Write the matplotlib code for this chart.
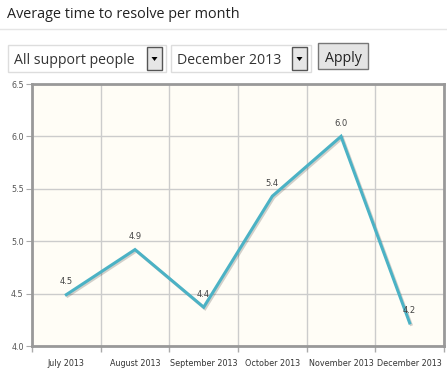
import matplotlib
matplotlib.use("Agg")
import matplotlib.pyplot as plt
import matplotlib.patheffects as pe
from matplotlib.patches import Rectangle, Polygon

# chart data
months = ["July 2013", "August 2013", "September 2013", "October 2013",
          "November 2013", "December 2013"]
avg_time = [4.49, 4.92, 4.37, 5.43, 6.0, 4.22]
y_ticks = [4.0, 4.5, 5.0, 5.5, 6.0, 6.5]

W, H = 447, 376
fig = plt.figure(figsize=(W / 100, H / 100), dpi=100)
fig.patch.set_facecolor("white")


def fx(px):
    return px / W


def fy(py):
    return 1 - py / H


# header
fig.text(fx(7), fy(15), "Average time to resolve per month", fontsize=10.4,
         family="Open Sans", color="#222222", va="center", ha="left")
fig.add_artist(plt.Line2D([0, 1], [fy(29), fy(29)], color="#e5e5e5", lw=1))


def dropdown(x0, x1, label):
    fig.add_artist(Rectangle((fx(x0), fy(72)), fx(x1 - x0), fy(45) - fy(72),
                             transform=fig.transFigure, facecolor="white",
                             edgecolor="#dddddd", lw=1))
    fig.text(fx(x0 + 6), fy(61), label, fontsize=10.2, family="Open Sans",
             color="#333333", va="center", ha="left")
    bx0, bx1 = x1 - 19, x1 - 4
    fig.add_artist(Rectangle((fx(bx0), fy(70)), fx(bx1 - bx0), fy(47) - fy(70),
                             transform=fig.transFigure, facecolor="#e6e6e6",
                             edgecolor="#555555", lw=1))
    cx = (bx0 + bx1) / 2
    fig.add_artist(Polygon([(fx(cx - 3), fy(57)), (fx(cx + 3), fy(57)),
                            (fx(cx), fy(61))], closed=True,
                           transform=fig.transFigure, facecolor="black",
                           edgecolor="none"))


dropdown(8, 166, "All support people")
dropdown(171, 311, "December 2013")
fig.add_artist(Rectangle((fx(318), fy(69)), fx(50), fy(43) - fy(69),
                         transform=fig.transFigure, facecolor="#e4e4e4",
                         edgecolor="#777777", lw=1))
fig.text(fx(343), fy(58), "Apply", fontsize=10.2, family="Open Sans",
         color="#222222", va="center", ha="center")

# plot area
ax = fig.add_axes([fx(32), fy(346), fx(444 - 32), fy(84) - fy(346)])
ax.set_facecolor("#fffdf6")
x = list(range(len(months)))
ax.plot(x, avg_time, color="#4bb2c5", lw=2.2, solid_joinstyle="miter",
        path_effects=[pe.SimpleLineShadow(offset=(1.0, -1.0), shadow_color="black",
                                          alpha=0.18), pe.Normal()], zorder=3)
for xi, v in zip(x, avg_time):
    ax.annotate(f"{v:.1f}", (xi, v), xytext=(0, 6), textcoords="offset points",
                ha="center", va="bottom", fontsize=6, color="#444444")

ax.set_xlim(-0.5, len(months) - 0.5)
ax.set_ylim(4.0, 6.5)
ax.set_yticks(y_ticks)
ax.set_yticklabels([f"{t:.1f}" for t in y_ticks])
ax.set_xticks([i + 0.5 for i in range(-1, len(months))])
ax.set_xticklabels([])
ax.set_xticks(x, minor=True)
ax.set_xticklabels(months, minor=True)
ax.tick_params(axis="x", which="minor", length=0, pad=9, labelsize=5.8,
               labelcolor="#333333")
ax.tick_params(axis="x", which="major", length=4, color="#aaaaaa", width=1)
ax.tick_params(axis="y", length=4, color="#aaaaaa", labelsize=5.8,
               labelcolor="#555555", pad=2)
ax.grid(True, which="major", color="#cccccc", lw=1)
ax.set_axisbelow(True)
for s in ax.spines.values():
    s.set_color("#999999")
    s.set_linewidth(2)

fig.savefig("out.png", dpi=100)
